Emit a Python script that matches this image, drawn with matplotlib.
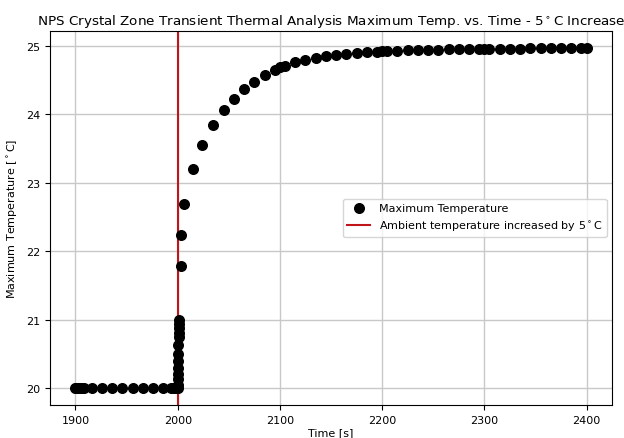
import numpy as np
import matplotlib
matplotlib.use('Agg')
import matplotlib.pyplot as plt

# tempos [s] e temperatura maxima [C]
tempo_antes = [1900, 1901, 1902, 1904, 1906, 1908, 1916, 1926, 1936, 1946,
               1956, 1966, 1976, 1986, 1993, 1996, 1998, 1999, 2000]
temp_antes = [20.0] * 19

tempo_degrau = [2000.1, 2000.2, 2000.3, 2000.4, 2000.5, 2000.6, 2000.7,
                2000.8, 2000.85, 2000.9, 2000.95, 2001.0]
temp_degrau = [20.05, 20.13, 20.20, 20.30, 20.40, 20.50, 20.63, 20.74,
               20.81, 20.88, 20.94, 20.995]

tempo_depois = [2003, 2003.6, 2006, 2015, 2024, 2035, 2045, 2055, 2065, 2075,
                2085, 2095, 2100, 2105, 2115, 2125, 2135, 2145, 2155, 2165,
                2175, 2185, 2195, 2200, 2205, 2215, 2225, 2235, 2245, 2255,
                2265, 2275, 2285, 2295, 2300, 2305, 2315, 2325, 2335, 2345,
                2355, 2365, 2375, 2385, 2395, 2400]
temp_depois = [21.79, 22.24, 22.69, 23.20, 23.56, 23.84, 24.06, 24.23, 24.37, 24.48,
               24.57, 24.65, 24.69, 24.71, 24.77, 24.80, 24.82, 24.85, 24.87, 24.88,
               24.90, 24.91, 24.915, 24.92, 24.925, 24.93, 24.935, 24.94, 24.94, 24.945,
               24.95, 24.95, 24.955, 24.955, 24.96, 24.96, 24.96, 24.962, 24.963, 24.965,
               24.966, 24.967, 24.968, 24.969, 24.97, 24.97]

tempo = np.array(tempo_antes + tempo_degrau + tempo_depois)
temp = np.array(temp_antes + temp_degrau + temp_depois)

t_aumento = 2000  # instante do aumento da temperatura ambiente

plt.rcParams['font.size'] = 8

fig = plt.figure(figsize=(6.24, 4.39), dpi=100)
ax = fig.add_axes([0.080, 0.075, 0.901, 0.852])

ax.scatter(tempo, temp, s=48, color='black', label='Maximum Temperature', zorder=3)
ax.axvline(t_aumento, color='#c0161b', linewidth=1.5,
           label='Ambient temperature increased by 5$^\\circ$C', zorder=2)

ax.grid(True, color='#c8c8c8', linewidth=1)
ax.set_axisbelow(True)
ax.set_xticks([1900, 2000, 2100, 2200, 2300, 2400])
ax.set_yticks([20, 21, 22, 23, 24, 25])
ax.set_xlabel('Time [s]', labelpad=2)
ax.set_ylabel('Maximum Temperature [$^\\circ$C]')
ax.set_title('NPS Crystal Zone Transient Thermal Analysis Maximum Temp. vs. Time - 5$^\\circ$C Increase',
             fontsize=9.7, pad=5)
ax.legend(loc='center right')

fig.savefig('out.png', dpi=100)
